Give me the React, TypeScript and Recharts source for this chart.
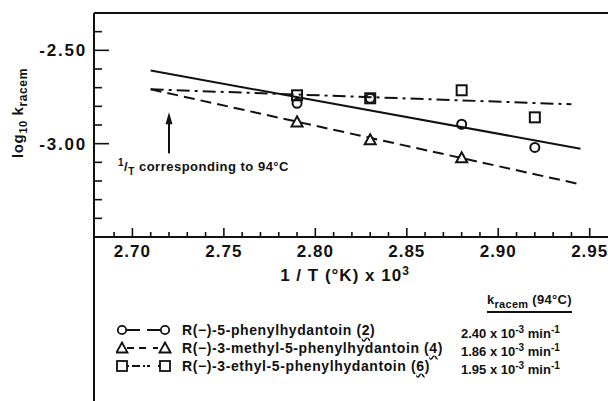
import React from 'react';
import { ComposedChart, Line, Scatter, XAxis, YAxis, ReferenceLine } from 'recharts';

// measured log10 k_racem against 1/T x 10^3
const phenylPts = [
  { x: 2.79, y: -2.784 },
  { x: 2.83, y: -2.757 },
  { x: 2.88, y: -2.896 },
  { x: 2.92, y: -3.02 },
];
const methylPts = [
  { x: 2.79, y: -2.886 },
  { x: 2.83, y: -2.982 },
  { x: 2.88, y: -3.078 },
];
const ethylPts = [
  { x: 2.79, y: -2.741 },
  { x: 2.83, y: -2.757 },
  { x: 2.88, y: -2.714 },
  { x: 2.92, y: -2.859 },
];

// least squares lines, end points
const phenylFit = [{ x: 2.71, y: -2.608 }, { x: 2.945, y: -3.027 }];
const methylFit = [{ x: 2.71, y: -2.709 }, { x: 2.945, y: -3.218 }];
const ethylFit = [{ x: 2.71, y: -2.709 }, { x: 2.94, y: -2.789 }];

// 1/T at 94 C
const arrowX = 2.72;
const arrowFrom = -3.052;
const arrowTo = -2.832;

const xTicks = [2.69, 2.70, 2.71, 2.72, 2.73, 2.74, 2.75, 2.76, 2.77, 2.78, 2.79, 2.80, 2.81, 2.82, 2.83, 2.84, 2.85, 2.86, 2.87, 2.88, 2.89, 2.90, 2.91, 2.92, 2.93, 2.94, 2.95];
const xMajor = [2.70, 2.75, 2.80, 2.85, 2.90, 2.95];
const yTicks = [-3.4, -3.3, -3.2, -3.1, -3.0, -2.9, -2.8, -2.7, -2.6, -2.5, -2.4];
const yMajor = [-2.5, -3.0];
const xDomain = [2.679, 2.96];
const yDomain = [-3.5, -2.3];

const compoundNames = ['R(−)-5-phenylhydantoin', 'R(−)-3-methyl-5-phenylhydantoin', 'R(−)-3-ethyl-5-phenylhydantoin'];
const compoundNums = ['2', '4', '6'];
const rates = ['2.40', '1.86', '1.95'];

const ink = '#111';
const font = '"Liberation Sans", Arial, sans-serif';

const isMajor = (v: number, list: number[]) => list.some((m) => Math.abs(m - v) < 1e-6);

const XTick = (props: any) => {
  const { x, y, payload } = props;
  const major = isMajor(payload.value, xMajor);
  return (
    <g>
      <line x1={x} y1={y} x2={x} y2={y - (major ? 9 : 5)} stroke={ink} strokeWidth={1.6} />
      {major && (
        <text x={x} y={y + 20} textAnchor="middle" fill={ink} fontSize={17} fontWeight="bold" fontFamily={font} letterSpacing={1}>
          {payload.value.toFixed(2)}
        </text>
      )}
    </g>
  );
};

const YTick = (props: any) => {
  const { x, y, payload } = props;
  const major = isMajor(payload.value, yMajor);
  return (
    <g>
      <line x1={x} y1={y} x2={x + (major ? 15 : 8)} y2={y} stroke={ink} strokeWidth={1.6} />
      {major && (
        <text x={x - 7} y={y + 6} textAnchor="end" fill={ink} fontSize={17} fontWeight="bold" fontFamily={font} letterSpacing={1.8}>
          {payload.value.toFixed(2)}
        </text>
      )}
    </g>
  );
};

const Circ = (p: any) => <circle cx={p.cx} cy={p.cy} r={4.5} fill="none" stroke={ink} strokeWidth={2} />;
const Tri = (p: any) => (
  <polygon points={`${p.cx},${p.cy - 6} ${p.cx - 5.5},${p.cy + 4} ${p.cx + 5.5},${p.cy + 4}`} fill="#fff" stroke={ink} strokeWidth={2} />
);
const Sq = (p: any) => <rect x={p.cx - 5} y={p.cy - 5} width={10} height={10} fill="none" stroke={ink} strokeWidth={2} />;

const Arrow = (p: any) => (
  <g>
    <line x1={p.x1} y1={p.y1} x2={p.x2} y2={p.y2 + 8} stroke={ink} strokeWidth={2} />
    <polygon points={`${p.x2},${p.y2} ${p.x2 - 3.5},${p.y2 + 12} ${p.x2 + 3.5},${p.y2 + 12}`} fill={ink} />
  </g>
);

const LegendMark = ({ kind }: { kind: number }) => {
  const mark = (cx: number) =>
    kind === 0 ? (
      <circle cx={cx} cy={7} r={4.2} fill="none" stroke={ink} strokeWidth={1.8} />
    ) : kind === 1 ? (
      <polygon points={`${cx},1.5 ${cx - 5.5},11.5 ${cx + 5.5},11.5`} fill="none" stroke={ink} strokeWidth={1.8} />
    ) : (
      <rect x={cx - 5} y={2} width={10} height={10} fill="none" stroke={ink} strokeWidth={1.8} />
    );
  const dash = kind === 0 ? '13 7 13' : kind === 1 ? '7 5 7' : '2 3 8 3 2';
  return (
    <svg width={56} height={14} style={{ position: 'absolute', left: 0, top: 2 }}>
      <line x1={11} y1={7} x2={44} y2={7} stroke={ink} strokeWidth={1.8} strokeDasharray={dash} />
      {mark(6)}
      {mark(49)}
    </svg>
  );
};

export default function App() {
  const rowTops = [321, 339, 357];
  return (
    <div style={{ position: 'absolute', left: 0, top: 0, width: 608, height: 401, background: '#fff', fontFamily: font, color: ink }}>
      <ComposedChart width={608} height={401} margin={{ top: 13, right: 0, bottom: 134, left: 0 }}>
        <XAxis
          dataKey="x"
          type="number"
          domain={xDomain}
          allowDataOverflow
          ticks={xTicks}
          interval={0}
          tickSize={0}
          tickMargin={0}
          height={30}
          axisLine={{ stroke: ink, strokeWidth: 2 }}
          tick={<XTick />}
        />
        <YAxis
          dataKey="y"
          type="number"
          domain={yDomain}
          allowDataOverflow
          ticks={yTicks}
          interval={0}
          tickSize={0}
          tickMargin={0}
          width={94}
          axisLine={{ stroke: ink, strokeWidth: 2 }}
          tick={<YTick />}
        />
        <ReferenceLine y={yDomain[1]} stroke={ink} strokeWidth={2} />
        <ReferenceLine
          segment={[{ x: arrowX, y: arrowFrom }, { x: arrowX, y: arrowTo }]}
          shape={<Arrow />}
        />
        <Line data={phenylFit} dataKey="y" type="linear" stroke={ink} strokeWidth={2} dot={false} isAnimationActive={false} />
        <Line data={methylFit} dataKey="y" type="linear" stroke={ink} strokeWidth={2} strokeDasharray="11 6" dot={false} isAnimationActive={false} />
        <Line data={ethylFit} dataKey="y" type="linear" stroke={ink} strokeWidth={2} strokeDasharray="13 5 3 5" dot={false} isAnimationActive={false} />
        <Scatter data={ethylPts} dataKey="y" shape={Sq} isAnimationActive={false} />
        <Scatter data={phenylPts} dataKey="y" shape={Circ} isAnimationActive={false} />
        <Scatter data={methylPts} dataKey="y" shape={Tri} isAnimationActive={false} />
      </ComposedChart>

      {/* left axis runs on past the x axis */}
      <div style={{ position: 'absolute', left: 93, top: 237, width: 2, height: 164, background: ink }} />

      <div style={{ position: 'absolute', left: 19, top: 113, transform: 'translate(-50%, -50%) rotate(-90deg)', whiteSpace: 'nowrap', fontSize: 15, fontWeight: 'bold', letterSpacing: 0.6 }}>
        log<sub style={{ fontSize: 11 }}>10</sub> k<sub style={{ fontSize: 12 }}>racem</sub>
      </div>

      <div style={{ position: 'absolute', left: 345, top: 275, transform: 'translate(-50%, -50%)', whiteSpace: 'nowrap', fontSize: 17, fontWeight: 'bold', letterSpacing: 1 }}>
        1 / T (°K) x 10<sup style={{ fontSize: 12 }}>3</sup>
      </div>

      <div style={{ position: 'absolute', left: 118, top: 157, whiteSpace: 'nowrap', fontSize: 13, fontWeight: 'bold', letterSpacing: 0.5 }}>
        <sup style={{ fontSize: 10 }}>1</sup>/<sub style={{ fontSize: 10 }}>T</sub> corresponding to 94°C
      </div>

      <div style={{ position: 'absolute', left: 487, top: 292, whiteSpace: 'nowrap', fontSize: 13, fontWeight: 'bold', borderBottom: `2px solid ${ink}`, paddingBottom: 1, letterSpacing: 0.3 }}>
        k<sub style={{ fontSize: 11 }}>racem</sub> (94°C)
      </div>

      {rowTops.map((top, i) => (
        <div key={i} style={{ position: 'absolute', left: 116, top, width: 480, height: 18, fontSize: 14, fontWeight: 'bold', whiteSpace: 'nowrap', lineHeight: '18px' }}>
          <LegendMark kind={i} />
          <span style={{ position: 'absolute', left: 66, letterSpacing: 0.6 }}>
            {compoundNames[i]} (<span style={{ textDecoration: 'underline wavy', textUnderlineOffset: 2 }}>{compoundNums[i]}</span>)
          </span>
          <span style={{ position: 'absolute', left: 345, fontSize: 13 }}>
            {rates[i]} x 10<sup style={{ fontSize: 10 }}>-3</sup> min<sup style={{ fontSize: 10 }}>-1</sup>
          </span>
        </div>
      ))}
    </div>
  );
}
